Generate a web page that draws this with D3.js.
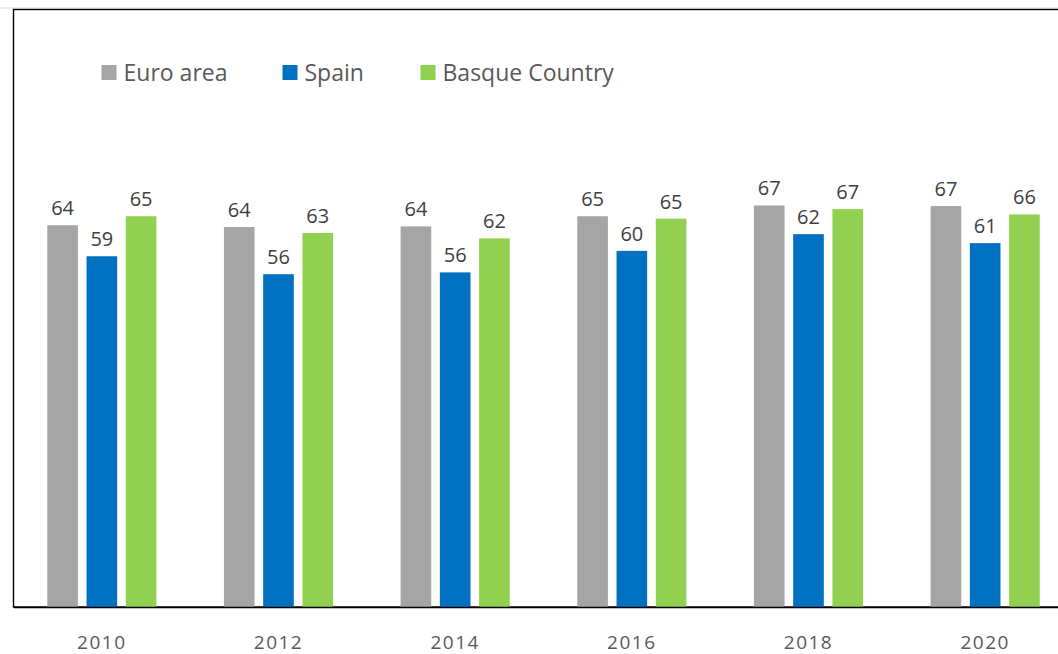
<!DOCTYPE html>
<html>
<head>
<meta charset="utf-8">
<script src="https://cdn.jsdelivr.net/npm/d3@7"></script>
<style>
  body { margin: 0; background: #fff; }
  svg { display: block; }
</style>
</head>
<body>
<script>
const years = ['2010', '2012', '2014', '2016', '2018', '2020']
const seriesNames = ['Euro area', 'Spain', 'Basque Country']
const euroArea = [63.9, 63.6, 63.7, 65.4, 67.2, 67.1]
const spain = [58.7, 55.7, 56.0, 59.6, 62.4, 60.9]
const basque = [65.4, 62.6, 61.7, 65.0, 66.6, 65.7]
const colours = ['#a5a5a5', '#0070c0', '#92d050']

const width = 1058
const height = 654

const seriesValues = [euroArea, spain, basque]
const data = years.map((y, i) => ({
  year: y,
  values: seriesNames.map((s, j) => ({ series: s, value: seriesValues[j][i] }))
}))

const svg = d3.select('body')
  .append('svg')
  .attr('width', width)
  .attr('height', height)

const x0 = d3.scaleBand()
  .domain(years)
  .range([13.5, 1073.5])
  .padding(0)

const x1 = d3.scaleBand()
  .domain(seriesNames)
  .range([0, x0.bandwidth()])
  .paddingInner(0.22)
  .paddingOuter(0.86)

const y = d3.scaleLinear()
  .domain([0, 100])
  .range([607, 9.5])

const colour = d3.scaleOrdinal()
  .domain(seriesNames)
  .range(colours)

// frame
svg.append('line')
  .attr('x1', 0).attr('x2', width)
  .attr('y1', 8).attr('y2', 8)
  .attr('stroke', '#d9d9d9')
  .attr('stroke-width', 1)

svg.append('rect')
  .attr('x', 13.5)
  .attr('y', 9.5)
  .attr('width', 1100)
  .attr('height', 597.5)
  .attr('fill', 'none')
  .attr('stroke', '#000')
  .attr('stroke-width', 1.4)

const groups = svg.selectAll('g.group')
  .data(data)
  .enter()
  .append('g')
  .attr('class', 'group')
  .attr('transform', d => `translate(${x0(d.year)},0)`)

groups.selectAll('rect')
  .data(d => d.values)
  .enter()
  .append('rect')
  .attr('x', d => x1(d.series))
  .attr('y', d => y(d.value))
  .attr('width', x1.bandwidth())
  .attr('height', d => y(0) - y(d.value))
  .attr('fill', d => colour(d.series))

groups.selectAll('text')
  .data(d => d.values)
  .enter()
  .append('text')
  .attr('x', d => x1(d.series) + x1.bandwidth() / 2)
  .attr('y', d => y(d.value) - 10)
  .attr('text-anchor', 'middle')
  .attr('font-family', 'Open Sans, sans-serif')
  .attr('font-size', '20px')
  .attr('fill', '#404040')
  .text(d => Math.round(d.value))

// x axis
const xAxis = svg.append('g')
  .attr('transform', 'translate(0,607)')
  .call(d3.axisBottom(x0).tickSize(0).tickPadding(0))

xAxis.select('.domain')
  .attr('stroke', '#000')
  .attr('stroke-width', 1.4)

xAxis.selectAll('text')
  .attr('y', 42)
  .attr('dy', 0)
  .attr('font-family', 'Open Sans, sans-serif')
  .attr('font-size', '19px')
  .attr('letter-spacing', '1.5px')
  .attr('fill', '#595959')

// legend
const legendX = [101.5, 282.5, 420.5]
const legend = svg.selectAll('g.legend')
  .data(seriesNames)
  .enter()
  .append('g')
  .attr('class', 'legend')
  .attr('transform', (d, i) => `translate(${legendX[i]},65)`)

legend.append('rect')
  .attr('width', 15)
  .attr('height', 15)
  .attr('fill', d => colour(d))

legend.append('text')
  .attr('x', 22)
  .attr('y', 15.5)
  .attr('font-family', 'Open Sans, sans-serif')
  .attr('font-size', '23px')
  .attr('fill', '#595959')
  .text(d => d)
</script>
</body>
</html>
